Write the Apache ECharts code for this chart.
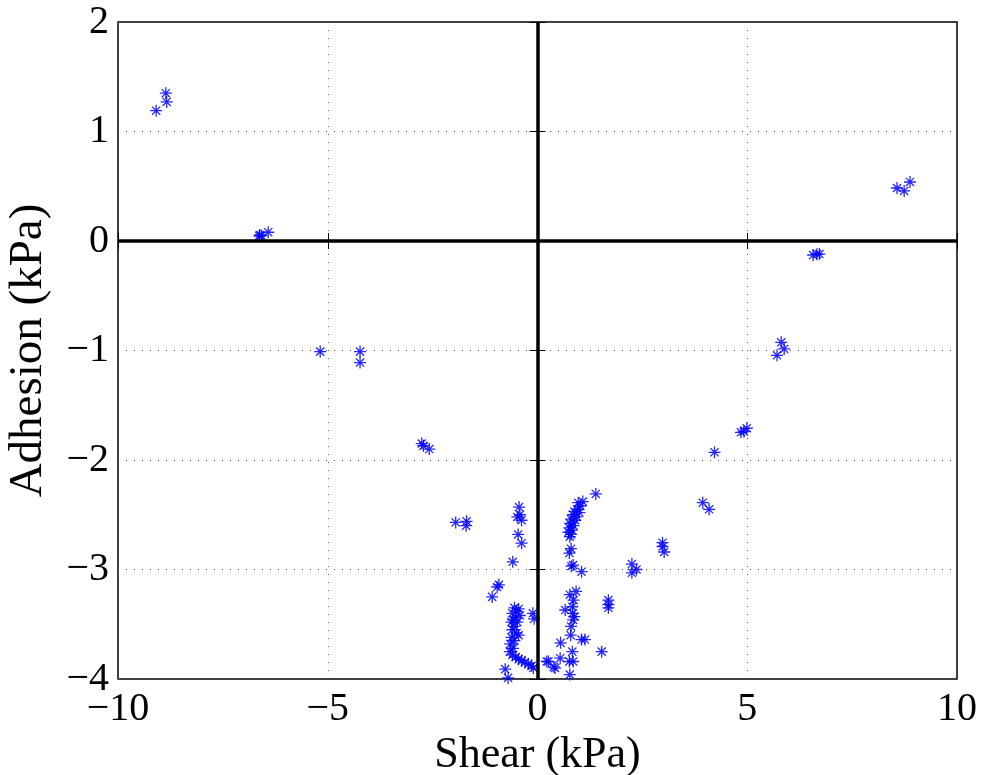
<!DOCTYPE html>
<html>
<head>
<meta charset="utf-8">
<script src="https://cdn.jsdelivr.net/npm/echarts@6/dist/echarts.min.js"></script>
<style>html,body{margin:0;padding:0;background:#fff}#c{width:984px;height:775px}</style>
</head>
<body>
<div id="c"></div>
<script>
const xTicks = [-10, -5, 0, 5, 10];
const yTicks = [-4, -3, -2, -1, 0, 1, 2];
const shear = [
  -9.09, -8.86, -8.84,
  -6.62, -6.42, -6.58, -6.63,
  -5.18, -4.23, -4.23,
  -2.76, -2.72, -2.58,
  -1.95, -1.69, -1.70,
  -0.44, -0.48, -0.38, -0.42, -0.46, -0.38,
  -0.59, -0.96, -0.92, -1.08,
  -0.11, -0.08,
  -0.55, -0.45, -0.50, -0.60, -0.42, -0.52, -0.58, -0.48, -0.55, -0.60, -0.50, -0.62, -0.55, -0.65, -0.58, -0.66, -0.60, -0.52, -0.45, -0.38, -0.30, -0.22, -0.14, -0.10, -0.77, -0.70, -0.62, -0.45,
  0.22, 0.26, 0.39, 0.42, 0.54, 0.55, 0.76, 0.85, 0.77, 0.83, 0.79, 0.80, 0.85, 0.84, 0.88, 0.66, 0.83, 0.77, 0.92, 0.86, 1.05, 1.13, 1.53, 1.69, 1.69, 1.69,
  1.39, 1.08, 0.97, 1.02, 0.95, 0.88, 1.00, 0.85, 0.93, 0.80, 0.90, 0.78, 0.86, 0.76, 0.82, 0.74, 0.80, 0.77, 0.80, 0.76, 0.81, 0.85, 1.05,
  2.25, 2.36, 2.25, 2.98, 3.02, 2.98,
  3.94, 4.09, 4.22, 4.85, 4.92, 4.99,
  5.71, 5.81, 5.88,
  6.57, 6.66, 6.72,
  8.57, 8.74, 8.88
];
const adhesion = [
  1.19, 1.35, 1.27,
  0.055, 0.08, 0.05, 0.045,
  -1.01, -1.01, -1.11,
  -1.85, -1.87, -1.90,
  -2.57, -2.56, -2.60,
  -2.43, -2.52, -2.55, -2.50, -2.68, -2.76,
  -2.93, -3.16, -3.14, -3.25,
  -3.40, -3.45,
  -3.35, -3.36, -3.38, -3.40, -3.42, -3.44, -3.46, -3.48, -3.52, -3.55, -3.58, -3.62, -3.65, -3.68, -3.72, -3.75, -3.78, -3.80, -3.82, -3.83, -3.85, -3.86, -3.88, -3.90, -3.91, -3.99, -3.48, -3.60,
  -3.84, -3.84, -3.89, -3.90, -3.81, -3.67, -3.84, -3.84, -3.96, -3.75, -3.60, -3.52, -3.46, -3.40, -3.43, -3.37, -3.34, -3.23, -3.20, -3.28, -3.64, -3.64, -3.75, -3.28, -3.32, -3.35,
  -2.31, -2.38, -2.39, -2.42, -2.45, -2.47, -2.48, -2.50, -2.52, -2.54, -2.55, -2.58, -2.60, -2.62, -2.64, -2.66, -2.68, -2.70, -2.81, -2.85, -2.97, -2.96, -3.02,
  -2.95, -3.00, -3.03, -2.755, -2.84, -2.79,
  -2.39, -2.45, -1.93, -1.747, -1.74, -1.71,
  -1.044, -0.925, -0.986,
  -0.128, -0.12, -0.119,
  0.484, 0.457, 0.539
];

const points = shear.map((x, i) => [x, adhesion[i]]);
const fmt = v => String(v).replace('-', '\u2212');
const font = '"Liberation Serif", "DejaVu Serif", serif';
const asterisk = 'path://M5,0L5,10M0,5L10,5M1.6,1.6L8.4,8.4M1.6,8.4L8.4,1.6';

const chart = echarts.init(document.getElementById('c'), null, {renderer: 'canvas'});
const gridLine = {show: true, lineStyle: {color: '#555', width: 1, type: [1, 7]}};
chart.setOption({
  animation: false,
  backgroundColor: '#fff',
  grid: {left: 118, right: 27, top: 22, bottom: 96, show: true, borderColor: '#000', borderWidth: 1.5, backgroundColor: 'transparent', containLabel: false, outerBoundsMode: 'none'},
  xAxis: [{
    type: 'value', min: xTicks[0], max: xTicks[xTicks.length - 1], interval: 5,
    position: 'bottom',
    axisLine: {show: false},
    axisTick: {show: true, inside: true, length: 8, lineStyle: {color: '#000'}},
    splitLine: gridLine,
    axisLabel: {formatter: fmt, fontFamily: font, fontSize: 40, color: '#000', margin: 10},
    name: 'Shear (kPa)', nameLocation: 'middle', nameGap: 47,
    nameTextStyle: {fontFamily: font, fontSize: 44, color: '#000'}
  }, {
    type: 'value', min: xTicks[0], max: xTicks[xTicks.length - 1], interval: 5,
    position: 'top', axisLine: {show: false},
    axisTick: {show: true, inside: true, length: 8, lineStyle: {color: '#000'}},
    axisLabel: {show: false}, splitLine: {show: false}
  }],
  yAxis: [{
    type: 'value', min: yTicks[0], max: yTicks[yTicks.length - 1], interval: 1,
    position: 'left',
    axisLine: {show: false},
    axisTick: {show: true, inside: true, length: 8, lineStyle: {color: '#000'}},
    splitLine: gridLine,
    axisLabel: {formatter: fmt, fontFamily: font, fontSize: 40, color: '#000', margin: 9},
    name: 'Adhesion (kPa)', nameLocation: 'middle', nameGap: 66,
    nameTextStyle: {fontFamily: font, fontSize: 47, color: '#000'}
  }, {
    type: 'value', min: yTicks[0], max: yTicks[yTicks.length - 1], interval: 1,
    position: 'right', axisLine: {show: false},
    axisTick: {show: true, inside: true, length: 8, lineStyle: {color: '#000'}},
    axisLabel: {show: false}, splitLine: {show: false}
  }],
  series: [{
    type: 'scatter',
    data: points,
    symbol: asterisk,
    symbolSize: 12,
    itemStyle: {color: 'rgba(0,0,255,0)', borderColor: '#0000ff', borderWidth: 1.3, opacity: 0.85},
    markLine: {
      silent: true, symbol: ['none', 'none'], label: {show: false},
      lineStyle: {color: '#000', width: 3.5, type: 'solid'},
      data: [{xAxis: 0}, {yAxis: 0}],
      z: 10
    }
  }]
});
</script>
</body>
</html>
